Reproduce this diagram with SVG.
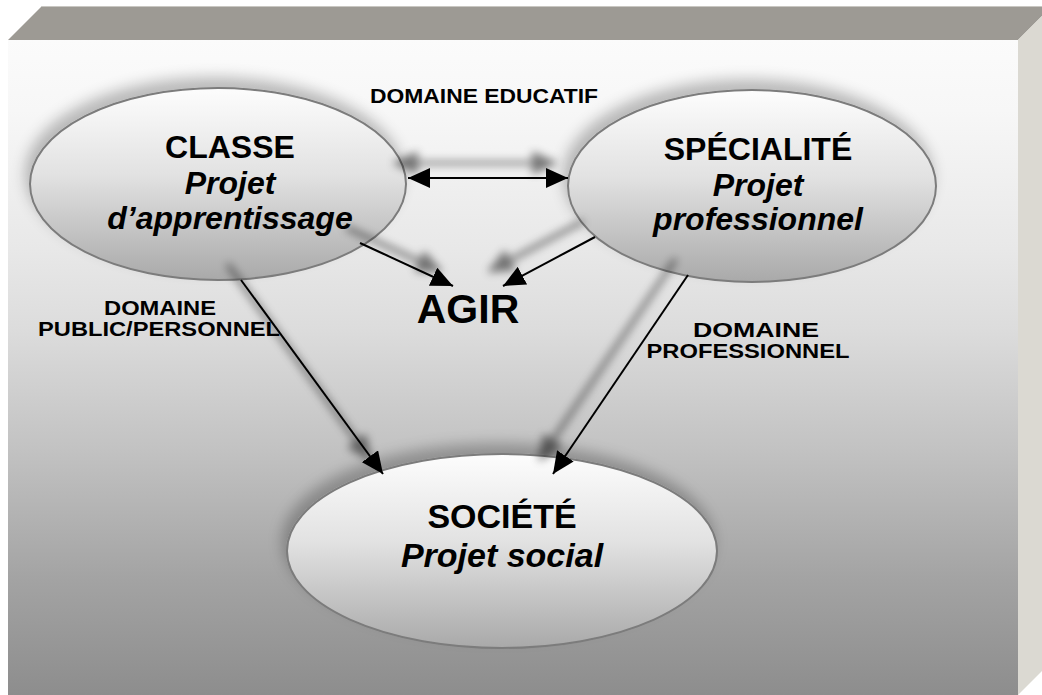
<svg xmlns="http://www.w3.org/2000/svg" width="1042" height="695" viewBox="0 0 1042 695">
<style>
.lbl{font-family:"Liberation Sans",Arial,sans-serif;font-weight:bold;fill:#000;text-anchor:middle}
.dom{font-size:20px}
.ttl{font-size:32px}
.it{font-size:32px;font-style:italic}
.soc{font-size:34px}
.con{stroke:#000;stroke-width:2;fill:none}
.ell{fill:url(#gE);stroke:#7c7c7c;stroke-width:2}
</style>
<defs>
<linearGradient id="gF" x1="0" y1="40" x2="0" y2="695" gradientUnits="userSpaceOnUse">
<stop offset="0" stop-color="#fbfbfb"/>
<stop offset="0.107" stop-color="#f7f7f7"/>
<stop offset="0.32" stop-color="#e8e8e8"/>
<stop offset="0.443" stop-color="#dcdcdc"/>
<stop offset="0.626" stop-color="#c2c2c2"/>
<stop offset="0.824" stop-color="#a3a3a3"/>
<stop offset="1" stop-color="#8d8d8d"/>
</linearGradient>
<linearGradient id="gE" x1="0" y1="0" x2="0" y2="1">
<stop offset="0" stop-color="#fdfdfd"/>
<stop offset="0.45" stop-color="#e2e2e2"/>
<stop offset="1" stop-color="#a9a9a9"/>
</linearGradient>
<filter id="shE" filterUnits="userSpaceOnUse" x="0" y="0" width="1042" height="695">
<feGaussianBlur in="SourceAlpha" stdDeviation="7"/>
<feOffset dx="-4" dy="-10" result="b"/>
<feFlood flood-color="#000" flood-opacity="0.25"/>
<feComposite in2="b" operator="in"/>
<feMerge><feMergeNode/><feMergeNode in="SourceGraphic"/></feMerge>
</filter>
<filter id="shL" filterUnits="userSpaceOnUse" x="0" y="0" width="1042" height="695">
<feMorphology in="SourceAlpha" operator="dilate" radius="1"/>
<feGaussianBlur stdDeviation="4.5"/>
<feOffset dx="-13" dy="-15" result="b"/>
<feFlood flood-color="#000" flood-opacity="0.5"/>
<feComposite in2="b" operator="in"/>
<feMerge><feMergeNode/><feMergeNode in="SourceGraphic"/></feMerge>
</filter>
<marker id="ah" markerUnits="userSpaceOnUse" markerWidth="22" markerHeight="20" refX="22" refY="10" orient="auto-start-reverse" viewBox="0 0 22 20">
<path d="M0,0 L22,10 L0,20 z" fill="#000"/>
</marker>
</defs>
<rect x="0" y="0" width="1042" height="695" fill="#ffffff"/>
<g id="box">
<polygon points="8,40 42,6 1052,6 1018,40" fill="#9d9a94"/>
<line x1="42" y1="6.5" x2="1052" y2="6.5" stroke="#c9c7c2" stroke-width="1"/>
<polygon points="1018,40 1052,6 1052,661 1018,695" fill="#dbd9d2"/>
<rect x="8" y="40" width="1010" height="655" fill="url(#gF)"/>
</g>
<g id="classe" filter="url(#shE)">
<ellipse class="ell" cx="218" cy="184" rx="188" ry="96"/>
</g>
<g id="specialite" filter="url(#shE)">
<ellipse class="ell" cx="752" cy="186" rx="184" ry="96"/>
</g>
<g id="societe" filter="url(#shE)">
<ellipse class="ell" cx="502" cy="551" rx="215" ry="97"/>
</g>
<g id="connectors" filter="url(#shL)">
<line class="con" x1="408" y1="178" x2="568" y2="178" marker-start="url(#ah)" marker-end="url(#ah)"/>
<line class="con" x1="360" y1="243" x2="453" y2="286" marker-end="url(#ah)"/>
<line class="con" x1="595" y1="237" x2="503" y2="286" marker-end="url(#ah)"/>
<line class="con" x1="241" y1="280" x2="383" y2="474" marker-end="url(#ah)"/>
<line class="con" x1="688" y1="275" x2="553" y2="474" marker-end="url(#ah)"/>
</g>
<g id="labels">
<text class="lbl dom" x="484" y="103" textLength="228" lengthAdjust="spacingAndGlyphs">DOMAINE EDUCATIF</text>
<text class="lbl dom" x="160" y="315" textLength="112" lengthAdjust="spacingAndGlyphs">DOMAINE</text>
<text class="lbl dom" x="159" y="336" textLength="242" lengthAdjust="spacingAndGlyphs">PUBLIC/PERSONNEL</text>
<text class="lbl dom" x="756" y="337" textLength="126" lengthAdjust="spacingAndGlyphs">DOMAINE</text>
<text class="lbl dom" x="748" y="358" textLength="203" lengthAdjust="spacingAndGlyphs">PROFESSIONNEL</text>
</g>
<g id="classe-text">
<text class="lbl ttl" x="230" y="158">CLASSE</text>
<text class="lbl it" x="230" y="194">Projet</text>
<text class="lbl it" x="230" y="229">d’apprentissage</text>
</g>
<g id="specialite-text">
<text class="lbl ttl" x="758" y="160">SPÉCIALITÉ</text>
<text class="lbl it" x="758" y="196">Projet</text>
<text class="lbl it" x="758" y="230">professionnel</text>
</g>
<g id="agir">
<text class="lbl" x="468" y="323" font-size="41">AGIR</text>
</g>
<g id="societe-text">
<text class="lbl soc" x="502" y="528">SOCIÉTÉ</text>
<text class="lbl soc" x="502" y="567" font-style="italic">Projet social</text>
</g>
</svg>
